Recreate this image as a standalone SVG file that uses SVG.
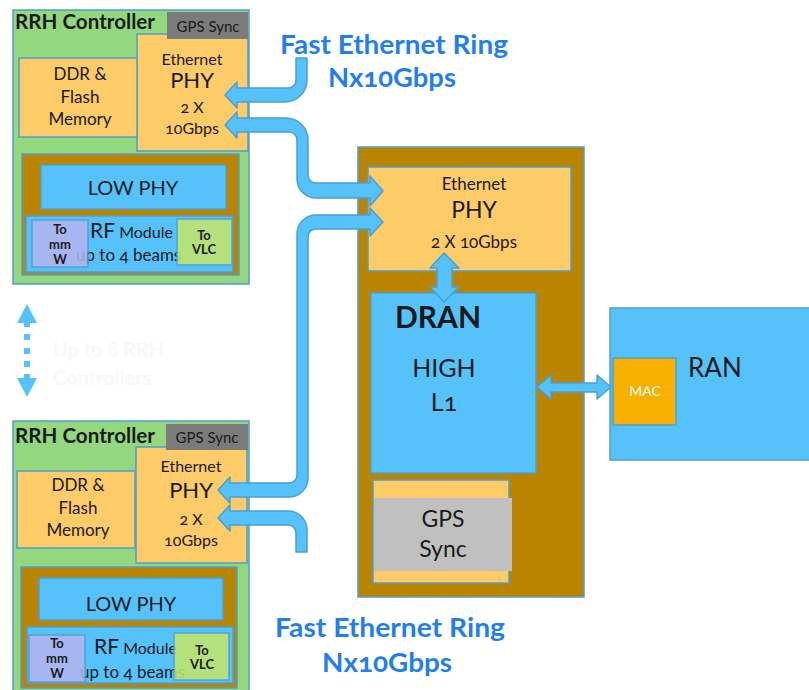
<svg xmlns="http://www.w3.org/2000/svg" width="809" height="690" viewBox="0 0 809 690">
<defs>
<style>
text{font-family:Lato,"Open Sans","Liberation Sans",sans-serif;fill:#1a1a1a;font-variant-numeric:oldstyle-nums}
.bx{stroke:#4d9fd0;stroke-width:1.5}
.green{fill:#93d77f}
.org{fill:#fdcb67}
.brn{fill:#b98400}
.blu{fill:#55c2fc}
.lav{fill:#b6b4f0;opacity:0.85}
.ylg{fill:#c5e765;opacity:0.85}
.gps{fill:#7b7b7b}
.c{text-anchor:middle}
.sm{font-size:13px;font-weight:bold}
.arr{fill:#55c2fc;stroke:#4a9fd4;stroke-width:1.5;stroke-linejoin:round}
.title{fill:#1f7ef2;font-weight:bold;font-size:26px;text-anchor:middle}
.faint{fill:#f8f8f8;font-size:20px;font-weight:bold}
.ttl{font-size:20px;font-weight:bold}
</style>
</defs>

<!-- Top RRH Controller -->
<g id="rrh1">
<rect class="green bx" x="13" y="10" width="236" height="274"/>
<rect class="org bx" x="137" y="34" width="111" height="117"/>
<rect class="gps" x="167" y="12" width="81" height="27"/>
<text x="208" y="32" class="c" font-size="15">GPS Sync</text>
<text x="15" y="29" class="ttl" textLength="140" lengthAdjust="spacingAndGlyphs">RRH Controller</text>
<text x="192" y="65" class="c" font-size="16">Ethernet</text>
<text x="192" y="88" class="c" font-size="22">PHY</text>
<text x="192" y="113" class="c" font-size="16">2 X</text>
<text x="192" y="134" class="c" font-size="16">10Gbps</text>
<rect class="org bx" x="19" y="58" width="118" height="79"/>
<text x="80" y="80" class="c" font-size="17">DDR &amp;</text>
<text x="80" y="103" class="c" font-size="17">Flash</text>
<text x="80" y="125" class="c" font-size="17">Memory</text>
<rect class="brn bx" x="22" y="154" width="217" height="121"/>
<rect class="blu bx" x="41" y="165" width="185" height="44"/>
<text x="133" y="195" class="c" font-size="20">LOW PHY</text>
<rect class="blu bx" x="26" y="216" width="207" height="56"/>
<text x="90" y="238"><tspan font-size="21">RF</tspan><tspan font-size="16"> Module</tspan></text>
<text x="76" y="261" font-size="17">up to 4 beams</text>
<rect class="lav bx" x="32" y="220" width="56" height="47"/>
<text x="60" y="234" class="c sm">To</text>
<text x="60" y="249" class="c sm">mm</text>
<text x="60" y="264" class="c sm">W</text>
<rect class="ylg bx" x="177" y="219" width="55" height="46"/>
<text x="204" y="240" class="c sm">To</text>
<text x="204" y="254" class="c sm">VLC</text>
</g>

<!-- Up to 8 RRH Controllers indicator -->
<g id="more">
<g fill="#55c2fc">
<polygon points="27,304 37,323 17,323"/>
<rect x="24" y="323" width="6" height="4"/>
<rect x="24" y="334" width="6" height="6"/>
<rect x="24" y="348" width="6" height="6"/>
<rect x="24" y="361" width="6" height="6"/>
<rect x="24" y="374" width="6" height="4"/>
<polygon points="17,378 37,378 27,397"/>
</g>
<text x="53" y="357" class="faint">Up to 8 RRH</text>
<text x="53" y="385" class="faint">Controllers</text>
</g>

<!-- Bottom RRH Controller -->
<g id="rrh2">
<rect class="green bx" x="13" y="421" width="236" height="274"/>
<rect class="org bx" x="136" y="447" width="111" height="116"/>
<rect class="gps" x="166" y="424" width="82" height="26"/>
<text x="207" y="443" class="c" font-size="15">GPS Sync</text>
<text x="15" y="443" class="ttl" textLength="140" lengthAdjust="spacingAndGlyphs">RRH Controller</text>
<text x="191" y="472" class="c" font-size="16">Ethernet</text>
<text x="191" y="498" class="c" font-size="22">PHY</text>
<text x="191" y="525" class="c" font-size="16">2 X</text>
<text x="191" y="546" class="c" font-size="16">10Gbps</text>
<rect class="org bx" x="17" y="471" width="118" height="77"/>
<text x="78" y="491" class="c" font-size="17">DDR &amp;</text>
<text x="78" y="514" class="c" font-size="17">Flash</text>
<text x="78" y="536" class="c" font-size="17">Memory</text>
<rect class="brn bx" x="21" y="567" width="216" height="121"/>
<rect class="blu bx" x="39" y="578" width="184" height="42"/>
<text x="131" y="611" class="c" font-size="20">LOW PHY</text>
<rect class="blu bx" x="27" y="627" width="206" height="56"/>
<text x="94" y="654"><tspan font-size="21">RF</tspan><tspan font-size="16"> Module</tspan></text>
<text x="80" y="678" font-size="17">up to 4 beams</text>
<rect class="lav bx" x="29" y="635" width="56" height="47"/>
<text x="57" y="648" class="c sm">To</text>
<text x="57" y="663" class="c sm">mm</text>
<text x="57" y="678" class="c sm">W</text>
<rect class="ylg bx" x="174" y="633" width="55" height="47"/>
<text x="202" y="655" class="c sm">To</text>
<text x="202" y="669" class="c sm">VLC</text>
</g>

<!-- DRAN -->
<g id="dran">
<rect class="brn bx" x="358" y="147" width="226" height="450"/>
<rect class="org bx" x="368" y="167" width="203" height="104"/>
<text x="474" y="190" class="c" font-size="17">Ethernet</text>
<text x="474" y="218" class="c" font-size="23">PHY</text>
<text x="474" y="248" class="c" font-size="17">2 X 10Gbps</text>
<rect class="blu bx" x="371" y="293" width="165" height="180"/>
<text x="395" y="328" font-size="30" font-weight="bold" fill="#111">DRAN</text>
<text x="444" y="377" class="c" font-size="25">HIGH</text>
<text x="444" y="411" class="c" font-size="25">L1</text>
<rect class="org bx" x="373" y="480" width="136" height="103"/>
<rect x="374" y="498" width="138" height="73" fill="#c0c0c0"/>
<text x="443" y="527" class="c" font-size="23">GPS</text>
<text x="443" y="557" class="c" font-size="23">Sync</text>
</g>

<!-- RAN -->
<g id="ran">
<rect class="blu bx" x="610" y="308" width="205" height="152"/>
<text x="688" y="377" font-size="26">RAN</text>
<rect x="613" y="358" width="63" height="67" fill="#f7b000" class="bx"/>
<text x="645" y="396" class="c" font-size="14" style="fill:#ffffff">MAC</text>
</g>

<!-- Labels -->
<g id="labels">
<text x="394" y="54" class="title" textLength="228" lengthAdjust="spacingAndGlyphs">Fast Ethernet Ring</text>
<text x="392" y="87" class="title" textLength="128" lengthAdjust="spacingAndGlyphs">Nx10Gbps</text>
<text x="390" y="637" class="title" textLength="230" lengthAdjust="spacingAndGlyphs">Fast Ethernet Ring</text>
<text x="387" y="672" class="title" textLength="130" lengthAdjust="spacingAndGlyphs">Nx10Gbps</text>
</g>

<!-- Connectors -->
<g id="connectors">
<path class="arr" d="M296,58 H307 V80 A22,22 0 0 1 285,102 H237 V108 L225,95 L237,82 V88 H288 A8,8 0 0 0 296,80 Z"/>
<path class="arr" d="M225,125 L237,112 V118 H286 A22,22 0 0 1 308,140 V175 A8,8 0 0 0 316,183 H370 V176 L383,191 L370,206 V198 H316 A19,19 0 0 1 297,179 V140 A8,8 0 0 0 289,132 H237 V138 Z"/>
<path class="arr" d="M383,222 L370,208 V215 H316 A19,19 0 0 0 297,234 V475 A8,8 0 0 1 289,483 H230 V477 L218,490 L230,503 V497 H289 A19,19 0 0 0 308,478 V237 A8,8 0 0 1 316,229 H370 V236 Z"/>
<path class="arr" d="M218,518 L230,505 V511 H288 A19,19 0 0 1 307,530 V552 H296 V533 A8,8 0 0 0 288,525 H230 V531 Z"/>
<path class="arr" d="M444,253 L459,268 H452 V287 H459 L444,302 L430,287 H437 V268 H430 Z"/>
<path class="arr" d="M537,387 L551,375 V383 H597 V375 L611,387 L597,399 V392 H551 V399 Z"/>
</g>
</svg>
